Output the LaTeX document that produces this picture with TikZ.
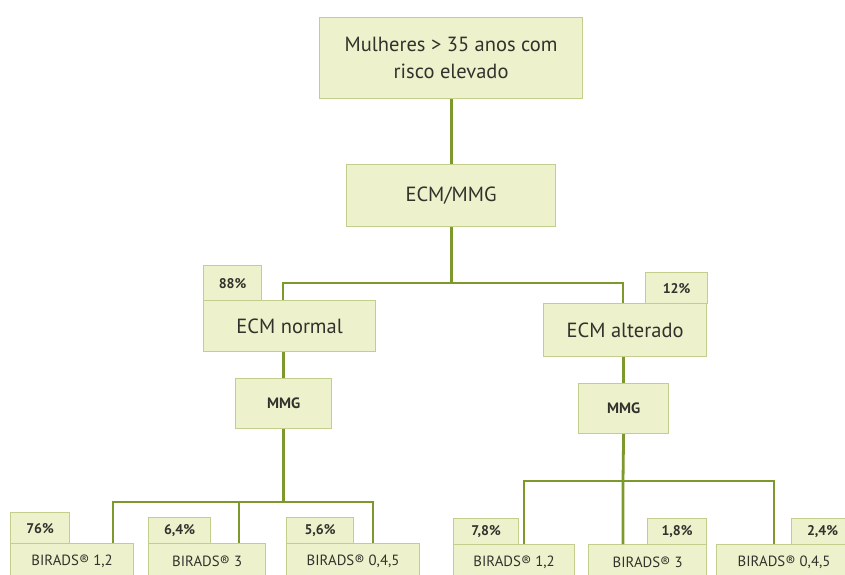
\documentclass[tikz,border=0pt]{standalone}
\usepackage{fontspec}
\setmainfont{PT Sans}
\definecolor{boxfill}{RGB}{238,242,204}
\definecolor{boxline}{RGB}{196,206,140}
\definecolor{connc}{RGB}{125,152,45}
\definecolor{txt}{RGB}{50,50,45}
\tikzset{
  box/.style={draw=boxline, line width=1.2pt, fill=boxfill, inner sep=0pt,
    anchor=north west, text=txt, align=center},
  bigbox/.style={box, font=\fontsize{20.5}{26.5}\selectfont},
  midbox/.style={box, font=\fontsize{14.8}{18}\selectfont},
  tabbox/.style={box, font=\bfseries\fontsize{14}{16}\selectfont},
  mmgbox/.style={box, font=\bfseries\fontsize{15}{17}\selectfont},
  conn/.style={draw=connc, line width=2.8pt}
}
\begin{document}
\begin{tikzpicture}[x=1pt,y=-1pt]
\useasboundingbox (0,0) rectangle (845,574);
\clip (0,0) rectangle (845,574);
\fill[white] (0,0) rectangle (845,574);
% nodes
\node[bigbox, minimum width=263pt, minimum height=81pt] (top) at (319,17) {Mulheres > 35 anos com\\risco elevado};
\node[bigbox, minimum width=209pt, minimum height=62pt] (ecmmmg) at (346,164) {ECM/MMG};
\node[tabbox, minimum width=58pt, minimum height=35pt] (t88) at (203,265) {88\%};
\node[bigbox, minimum width=172pt, minimum height=51pt] (ecmn) at (203,300) {ECM normal};
\node[tabbox, minimum width=62pt, minimum height=31pt] (t12) at (645,272) {12\%};
\node[bigbox, minimum width=163pt, minimum height=53pt] (ecma) at (543,303) {ECM alterado};
\node[mmgbox, minimum width=96pt, minimum height=50pt] (mmgL) at (235,378) {MMG};
\node[mmgbox, minimum width=90pt, minimum height=50pt] (mmgR) at (578,383) {MMG};
% bottom left
\node[tabbox, minimum width=59pt, minimum height=31pt] (t76) at (10,512) {76\%};
\node[midbox, minimum width=123pt, minimum height=36pt] (b1) at (10,543) {BIRADS® 1,2};
\node[tabbox, minimum width=62pt, minimum height=26pt] (t64) at (148,517) {6,4\%};
\node[midbox, minimum width=117pt, minimum height=36pt] (b2) at (148,543) {BIRADS® 3};
\node[tabbox, minimum width=67pt, minimum height=26pt] (t56) at (286,517) {5,6\%};
\node[midbox, minimum width=133pt, minimum height=36pt] (b3) at (286,543) {BIRADS® 0,4,5};
% bottom right
\node[tabbox, minimum width=65pt, minimum height=26pt] (t78) at (453,518) {7,8\%};
\node[midbox, minimum width=121pt, minimum height=36pt] (b4) at (453,544) {BIRADS® 1,2};
\node[tabbox, minimum width=59pt, minimum height=26pt] (t18) at (647,518) {1,8\%};
\node[midbox, minimum width=118pt, minimum height=36pt] (b5) at (588,544) {BIRADS® 3};
\node[tabbox, minimum width=62pt, minimum height=26pt] (t24) at (791,518) {2,4\%};
\node[midbox, minimum width=135pt, minimum height=36pt] (b6) at (716,544) {BIRADS® 0,4,5};
% junction coordinates
\coordinate (hL) at (283,283);
\coordinate (hR) at (623,283);
\coordinate (lA) at (113,502);
\coordinate (lB) at (239,502);
\coordinate (lC) at (373,502);
\coordinate (rA) at (524,481);
\coordinate (rB) at (623,481);
\coordinate (rC) at (774,481);
% connectors
\draw[conn] (top.south) -- (ecmmmg.north);
\draw[conn] (ecmmmg.south) -- (ecmmmg.south |- hL);
\draw[conn] (hL |- ecmn.north) -- (hL) -- (hR) -- (hR |- ecma.north);
\draw[conn] (ecmn.south -| mmgL.north) -- (mmgL.north);
\draw[conn] (ecma.south -| mmgR.north) -- (mmgR.north);
\draw[conn] (mmgL.south) -- (mmgL.south |- lA);
\draw[conn] (lA |- b1.north) -- (lA) -- (lC) -- (lC |- b3.north);
\draw[conn] (lB) -- (lB |- b2.north);
\draw[conn] (mmgR.south) -- (rB) -- (rB |- b5.north);
\draw[conn] (rA |- b4.north) -- (rA) -- (rC) -- (rC |- b6.north);
\end{tikzpicture}
\end{document}
